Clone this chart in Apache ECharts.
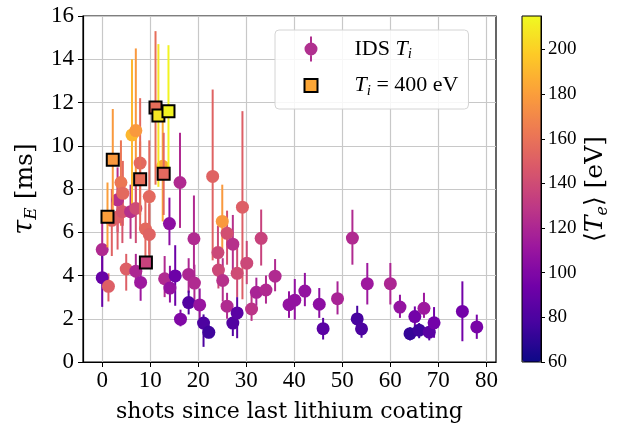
<!DOCTYPE html>
<html><head><meta charset="utf-8">
<script src="https://cdn.jsdelivr.net/npm/echarts@6/dist/echarts.min.js"></script>
<style>html,body{margin:0;padding:0;background:#fff}#c{width:620px;height:430px}</style>
</head><body><div id="c"></div>
<script>
// tick labels
const xTicks = [0, 10, 20, 30, 40, 50, 60, 70, 80];
const cbTicks = [60, 80, 100, 120, 140, 160, 180, 200];

// IDS T_i points: shot, tau_E, lower, upper, <Te>
const idsShot = [0, 0, 1.3, 2.0, 3.2, 3.2, 3.9, 4.3, 4.2, 5.0, 5.9, 6.2, 7.0, 7.0, 7.0, 7.9, 8.0, 9.0, 9.8, 9.8,
  12.6, 13.0, 14.0, 14.1, 15.2, 16.2, 16.3, 18.0, 18.0, 19.1, 19.2, 20.3, 21.1, 22.2, 23.0, 24.1, 24.2, 25.0, 25.1, 26.0,
  26.0, 27.2, 27.2, 28.1, 28.1, 29.2, 30.1, 31.1, 32.1, 33.1, 34.1, 36.0, 38.9, 40.1, 42.2, 45.2, 46.0, 49.0, 52.1, 53.1,
  54.0, 55.2, 60.0, 62.0, 64.1, 65.1, 66.0, 67.0, 68.1, 69.1, 75.0, 78.0];
const idsTau = [5.2, 3.9, 3.5, 6.55, 7.5, 6.7, 8.3, 7.8, 6.95, 4.3, 6.95, 10.5, 10.7, 7.1, 4.2, 9.2, 3.68, 6.15, 7.65, 5.9,
  9.05, 3.85, 6.4, 3.42, 3.98, 8.3, 1.98, 4.05, 2.75, 5.7, 3.65, 2.64, 1.8, 1.37, 8.58, 5.06, 4.25, 6.5, 3.77, 5.95,
  2.58, 5.45, 1.8, 4.1, 2.27, 7.16, 4.57, 2.45, 3.22, 5.72, 3.33, 3.97, 2.65, 2.86, 3.28, 2.67, 1.54, 2.93, 5.73, 1.99,
  1.53, 3.62, 3.62, 2.54, 1.31, 2.1, 1.47, 2.48, 1.38, 1.81, 2.34, 1.62];
const idsLow = [4.1, 2.55, 2.8, 4.9, 6.0, 5.2, 6.3, 6.3, 5.5, 3.3, 5.7, 7.2, 7.0, 5.5, 3.5, 6.2, 2.83, 4.5, 5.0, 4.5,
  6.5, 3.0, 5.4, 2.75, 2.6, 6.2, 1.65, 3.2, 2.2, 4.3, 2.8, 2.0, 0.7, 1.1, 4.7, 3.9, 3.4, 5.0, 2.8, 4.5,
  2.0, 4.0, 1.2, 3.0, 1.1, 2.9, 3.6, 1.9, 2.6, 4.46, 2.7, 3.27, 2.04, 1.96, 2.58, 2.04, 1.04, 2.2, 4.5, 1.5,
  1.12, 2.66, 2.66, 2.04, 1.0, 1.57, 1.1, 2.04, 1.0, 1.12, 0.96, 1.07];
const idsHigh = [6.5, 5.0, 4.1, 8.0, 9.0, 8.3, 10.25, 9.3, 8.4, 5.0, 8.2, 14.0, 14.5, 8.7, 5.0, 12.2, 4.5, 7.8, 10.25, 7.3,
  11.6, 4.9, 7.6, 4.45, 5.4, 10.6, 2.42, 4.8, 3.3, 7.7, 4.5, 3.4, 2.2, 1.7, 12.6, 6.3, 5.2, 8.2, 4.8, 7.0,
  3.2, 6.8, 2.5, 5.5, 3.0, 11.6, 5.6, 3.1, 3.9, 7.05, 4.0, 4.76, 3.27, 3.84, 4.12, 3.42, 2.04, 3.73, 7.04, 2.6,
  1.85, 4.58, 4.58, 3.11, 1.6, 2.57, 1.8, 3.2, 1.7, 2.54, 3.73, 2.19];
const idsTe = [122, 90, 150, 152, 125, 150, 162, 155, 145, 150, 125, 190, 178, 140, 120, 155, 112, 155, 155, 152,
  185, 122, 105, 108, 92, 122, 100, 120, 82, 122, 122, 110, 80, 75, 152, 138, 138, 178, 125, 142,
  122, 125, 82, 140, 85, 150, 138, 128, 118, 135, 122, 122, 108, 108, 108, 105, 85, 118, 122, 78,
  80, 112, 120, 108, 72, 95, 75, 112, 85, 95, 95, 97];

// T_i = 400 eV points
const sqShot = [1.1, 2.2, 7.9, 9.1, 11.1, 11.7, 12.8, 13.8];
const sqTau = [6.72, 9.35, 8.45, 4.6, 11.77, 11.4, 8.7, 11.6];
const sqLow = [5.3, 7.0, 6.8, 4.3, 8.2, 8.1, 6.8, 8.55];
const sqHigh = [8.3, 11.7, 10.2, 4.9, 15.3, 14.7, 10.6, 14.65];
const sqTe = [180, 178, 158, 135, 158, 208, 155, 213];

const plasma = ['#0d0887', '#46039f', '#7201a8', '#9c179e', '#bd3786', '#d8576b', '#ed7953', '#fb9f3a', '#fdca26', '#f0f921'];
const serif = 'Liberation Serif';

const idsData = idsShot.map((x, i) => [x, idsTau[i], idsLow[i], idsHigh[i], idsTe[i]]);
const sqData = sqShot.map((x, i) => [x, sqTau[i], sqLow[i], sqHigh[i], sqTe[i]]);

function errItem(params, api) {
  const x = api.value(0);
  const a = api.coord([x, api.value(2)]);
  const b = api.coord([x, api.value(3)]);
  return { type: 'line', shape: { x1: a[0], y1: a[1], x2: b[0], y2: b[1] },
    style: { stroke: api.visual('color'), lineWidth: 2 } };
}

const chart = echarts.init(document.getElementById('c'), null, { renderer: 'canvas' });
const option = {
  animation: false,
  textStyle: { fontFamily: serif },
  grid: [
    { left: 83, top: 16, width: 413, height: 346, show: true, borderColor: '#000', borderWidth: 1.2, backgroundColor: 'transparent' },
    { left: 522, top: 16, width: 19, height: 346, show: true, borderColor: '#000', borderWidth: 1, backgroundColor: 'transparent', z: 10 }
  ],
  xAxis: [
    { type: 'value', gridIndex: 0, min: -4, max: 82,
      axisLine: { show: true, onZero: false, lineStyle: { color: '#000', width: 1.2 } },
      axisTick: { show: true, inside: false, length: 5, lineStyle: { color: '#000' }, customValues: xTicks },
      axisLabel: { customValues: xTicks, fontSize: 23, color: '#000', margin: 7, fontFamily: serif },
      splitLine: { show: true, lineStyle: { color: '#c8c8c8', width: 1.2 } },
      name: 'shots since last lithium coating', nameLocation: 'middle', nameGap: 39,
      nameTextStyle: { fontSize: 22, fontFamily: 'DejaVu Serif', color: '#000' } },
    { type: 'value', gridIndex: 1, min: 0, max: 1, show: false }
  ],
  yAxis: [
    { type: 'value', gridIndex: 0, min: 0, max: 16, interval: 2,
      axisLine: { show: true, onZero: false, lineStyle: { color: '#000', width: 1.2 } },
      axisTick: { show: true, inside: false, length: 5, lineStyle: { color: '#000' } },
      axisLabel: { fontSize: 23, color: '#000', margin: 9, fontFamily: serif },
      splitLine: { show: true, lineStyle: { color: '#c8c8c8', width: 1.2 } },
      name: '{t|τ}{s|E} [ms]', nameLocation: 'middle', nameGap: 40, nameRotate: 90,
      nameTextStyle: { fontSize: 25, fontFamily: 'DejaVu Serif', color: '#000', lineHeight: 30,
        rich: { t: { fontSize: 27, fontStyle: 'italic', fontFamily: 'DejaVu Serif', lineHeight: 30 },
                s: { fontSize: 17, fontStyle: 'italic', fontFamily: 'DejaVu Serif', lineHeight: 17, verticalAlign: 'bottom' } } } },
    { type: 'value', gridIndex: 1, min: 60, max: 215, position: 'right', z: 10,
      axisLine: { show: true, onZero: false, lineStyle: { color: '#000', width: 1 } },
      axisTick: { show: true, inside: false, length: 4, lineStyle: { color: '#000' }, customValues: cbTicks },
      axisLabel: { customValues: cbTicks, fontSize: 19, color: '#000', margin: 7, fontFamily: serif },
      splitLine: { show: false },
      name: '⟨{i|T}{s|e}⟩ [eV]', nameLocation: 'middle', nameGap: 38, nameRotate: 90,
      nameTextStyle: { fontSize: 25, fontFamily: 'DejaVu Serif', color: '#000', lineHeight: 30,
        rich: { i: { fontSize: 25, fontStyle: 'italic', fontFamily: 'DejaVu Serif', lineHeight: 30 },
                s: { fontSize: 16, fontStyle: 'italic', fontFamily: 'DejaVu Serif', lineHeight: 16, verticalAlign: 'bottom' } } } }
  ],
  visualMap: {
    type: 'continuous', min: 60, max: 215, dimension: 4, seriesIndex: [0, 1, 2, 3],
    calculable: false, orient: 'vertical', left: 522, top: 16, itemWidth: 19, itemHeight: 346,
    padding: 0, inRange: { color: plasma }, hoverLink: false
  },
  legend: {
    left: 275, top: 30, orient: 'vertical', itemWidth: 13, itemHeight: 25, itemGap: 10,
    padding: [6, 10, 10, 28.5], backgroundColor: 'rgba(255,255,255,0.85)', borderColor: '#d4d4d4',
    borderWidth: 1, borderRadius: 4, selectedMode: false,
    data: [
      { name: 'IDS', icon: 'path://M5.5,0L7.5,0L7.5,25L5.5,25Z M13,12.5A6.5,6.5,0,1,1,0,12.5A6.5,6.5,0,1,1,13,12.5Z',
        itemStyle: { color: '#b0308f', borderWidth: 0 } },
      { name: 'T400', icon: 'path://M0,6L13,6L13,19L0,19Z M6.5,0L6.5,0.01 M6.5,25L6.5,24.99',
        itemStyle: { color: '#fca636', borderColor: '#000', borderWidth: 2 } }
    ],
    formatter: n => n === 'IDS' ? 'IDS {i|T}{s|i}' : '{i|T}{s|i} = 400 eV',
    textStyle: { fontSize: 22, fontFamily: serif, color: '#000', lineHeight: 26, padding: [0, 0, 0, 32],
      rich: { i: { fontSize: 22, fontStyle: 'italic', fontFamily: serif, lineHeight: 26 },
              s: { fontSize: 15, fontStyle: 'italic', fontFamily: serif, lineHeight: 15, verticalAlign: 'bottom' } } }
  },
  series: [
    { type: 'custom', xAxisIndex: 0, yAxisIndex: 0, data: idsData, renderItem: errItem, encode: { x: 0, y: [2, 3] }, z: 2, silent: true },
    { type: 'scatter', name: 'IDS', xAxisIndex: 0, yAxisIndex: 0, data: idsData, symbol: 'circle', symbolSize: 13,
      encode: { x: 0, y: 1 }, z: 3, itemStyle: { opacity: 1 } },
    { type: 'custom', xAxisIndex: 0, yAxisIndex: 0, data: sqData, renderItem: errItem, encode: { x: 0, y: [2, 3] }, z: 4, silent: true },
    { type: 'scatter', name: 'T400', xAxisIndex: 0, yAxisIndex: 0, data: sqData, symbol: 'rect', symbolSize: 12,
      encode: { x: 0, y: 1 }, z: 5, itemStyle: { borderColor: '#000', borderWidth: 2, opacity: 1 } }
  ]
};
chart.setOption(option);
</script></body></html>
